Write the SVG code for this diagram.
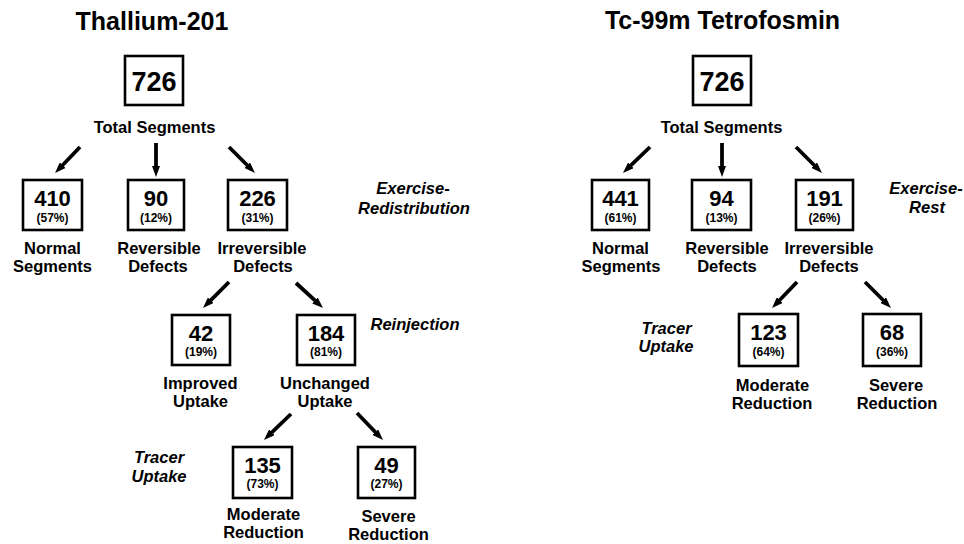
<svg xmlns="http://www.w3.org/2000/svg" width="964" height="544" viewBox="0 0 964 544">
<style>
text{font-family:"Liberation Sans",Arial,Helvetica,sans-serif;font-weight:bold;fill:#000;text-anchor:middle}
.title{font-size:25px}
.big{font-size:27px}
.num{font-size:22px}
.pct{font-size:12px}
.lbl{font-size:16.5px}
.it{font-size:16.5px;font-style:italic}
rect{fill:#fff;stroke:#000;stroke-width:2.6}
.conn line{stroke:#000;stroke-width:3.8;marker-end:url(#ah)}
</style>
<defs>
<marker id="ah" viewBox="0 0 11 8" refX="4" refY="4" markerWidth="11" markerHeight="8" orient="auto" markerUnits="userSpaceOnUse">
<path d="M0,0 L11,4 L0,8 z" fill="#000"/>
</marker>
</defs>
<rect x="0" y="0" width="964" height="544" style="stroke:none;fill:#fff"/>

<!-- Left panel -->
<text class="title" x="152" y="30">Thallium-201</text>
<text class="it" x="413" y="194">Exercise-</text>
<text class="it" x="414" y="214">Redistribution</text>
<text class="it" x="415" y="330">Reinjection</text>
<text class="it" x="159" y="463">Tracer</text>
<text class="it" x="159" y="482">Uptake</text>

<g id="tl-total">
<rect x="125" y="56" width="58" height="49"/>
<text class="big" x="154" y="91">726</text>
<text class="lbl" x="154.5" y="133">Total Segments</text>
</g>
<g id="tl-normal">
<rect x="23" y="180" width="59" height="50"/>
<text class="num" x="52.5" y="206">410</text>
<text class="pct" x="52.5" y="222">(57%)</text>
<text class="lbl" x="52.5" y="254">Normal</text>
<text class="lbl" x="52.5" y="272">Segments</text>
</g>
<g id="tl-reversible">
<rect x="128" y="180" width="56" height="50"/>
<text class="num" x="156" y="206">90</text>
<text class="pct" x="156" y="222">(12%)</text>
<text class="lbl" x="159" y="254">Reversible</text>
<text class="lbl" x="158" y="272">Defects</text>
</g>
<g id="tl-irreversible">
<rect x="228" y="180" width="59" height="50"/>
<text class="num" x="257.5" y="206">226</text>
<text class="pct" x="257.5" y="222">(31%)</text>
<text class="lbl" x="262" y="254">Irreversible</text>
<text class="lbl" x="263" y="272">Defects</text>
</g>
<g id="tl-improved">
<rect x="172" y="315" width="58" height="50"/>
<text class="num" x="201" y="341">42</text>
<text class="pct" x="201" y="356">(19%)</text>
<text class="lbl" x="200.5" y="389">Improved</text>
<text class="lbl" x="200.5" y="407">Uptake</text>
</g>
<g id="tl-unchanged">
<rect x="297" y="315" width="58" height="50"/>
<text class="num" x="326" y="341">184</text>
<text class="pct" x="326" y="356">(81%)</text>
<text class="lbl" x="325" y="389">Unchanged</text>
<text class="lbl" x="325" y="407">Uptake</text>
</g>
<g id="tl-moderate">
<rect x="233" y="447" width="59" height="51"/>
<text class="num" x="262.5" y="473">135</text>
<text class="pct" x="262.5" y="488">(73%)</text>
<text class="lbl" x="263.5" y="520">Moderate</text>
<text class="lbl" x="263.5" y="538">Reduction</text>
</g>
<g id="tl-severe">
<rect x="358" y="447" width="57" height="51"/>
<text class="num" x="386.5" y="473">49</text>
<text class="pct" x="386.5" y="488">(27%)</text>
<text class="lbl" x="388.5" y="522">Severe</text>
<text class="lbl" x="388.5" y="540">Reduction</text>
</g>

<!-- Right panel -->
<text class="title" x="722.5" y="29">Tc-99m Tetrofosmin</text>
<text class="it" x="926" y="194">Exercise-</text>
<text class="it" x="927" y="213">Rest</text>
<text class="it" x="666.5" y="334">Tracer</text>
<text class="it" x="666" y="352">Uptake</text>

<g id="tc-total">
<rect x="693" y="56" width="58" height="49"/>
<text class="big" x="722" y="91">726</text>
<text class="lbl" x="721.5" y="133">Total Segments</text>
</g>
<g id="tc-normal">
<rect x="592" y="180" width="57" height="50"/>
<text class="num" x="620.5" y="206">441</text>
<text class="pct" x="620.5" y="222">(61%)</text>
<text class="lbl" x="620.5" y="254">Normal</text>
<text class="lbl" x="621" y="272">Segments</text>
</g>
<g id="tc-reversible">
<rect x="692" y="180" width="59" height="50"/>
<text class="num" x="721.5" y="206">94</text>
<text class="pct" x="721.5" y="222">(13%)</text>
<text class="lbl" x="727" y="254">Reversible</text>
<text class="lbl" x="727" y="272">Defects</text>
</g>
<g id="tc-irreversible">
<rect x="796" y="180" width="57" height="50"/>
<text class="num" x="824.5" y="206">191</text>
<text class="pct" x="824.5" y="222">(26%)</text>
<text class="lbl" x="829" y="254">Irreversible</text>
<text class="lbl" x="829" y="272">Defects</text>
</g>
<g id="tc-moderate">
<rect x="739" y="314" width="59" height="52"/>
<text class="num" x="768.5" y="340">123</text>
<text class="pct" x="768.5" y="356">(64%)</text>
<text class="lbl" x="772.5" y="391">Moderate</text>
<text class="lbl" x="772" y="409">Reduction</text>
</g>
<g id="tc-severe">
<rect x="863" y="314" width="58" height="52"/>
<text class="num" x="892" y="340">68</text>
<text class="pct" x="892" y="356">(36%)</text>
<text class="lbl" x="896" y="391">Severe</text>
<text class="lbl" x="897" y="409">Reduction</text>
</g>

<g id="connectors" class="conn">
<line x1="80" y1="147" x2="59.9" y2="168"/>
<line x1="156" y1="143" x2="156" y2="170"/>
<line x1="229" y1="147" x2="250" y2="168"/>
<line x1="229" y1="282" x2="207.9" y2="303.1"/>
<line x1="296" y1="283" x2="317.9" y2="303.2"/>
<line x1="291" y1="414" x2="269" y2="435.1"/>
<line x1="357" y1="413" x2="378.1" y2="435"/>
<line x1="650" y1="147" x2="628" y2="168.1"/>
<line x1="722" y1="143" x2="722" y2="170"/>
<line x1="796" y1="147" x2="817" y2="168"/>
<line x1="797" y1="282" x2="776.9" y2="303"/>
<line x1="865" y1="282" x2="886" y2="303"/>
</g>
</svg>
